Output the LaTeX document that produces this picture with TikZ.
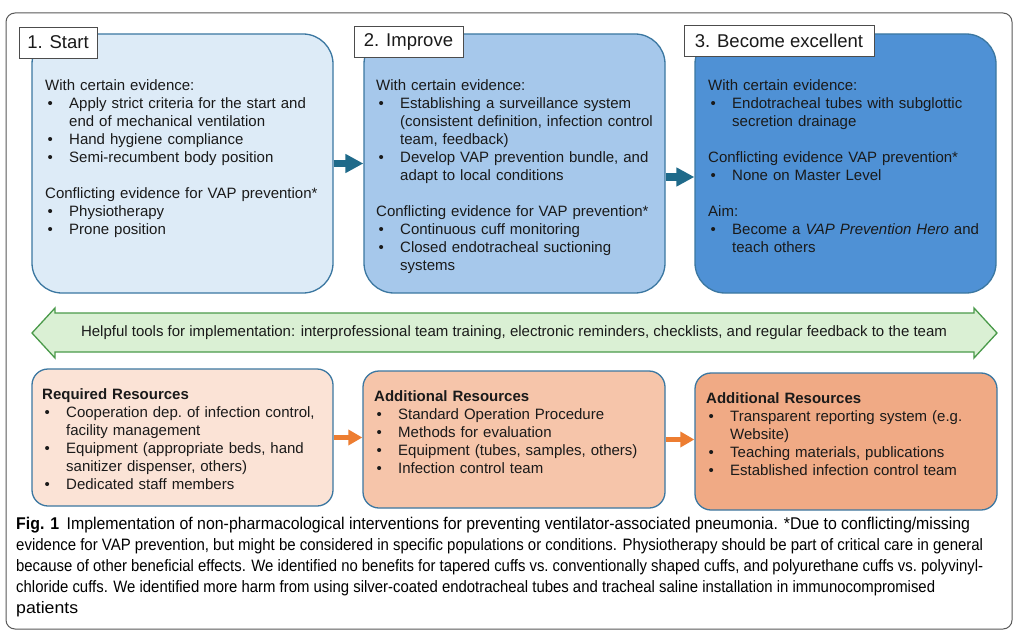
\documentclass[tikz,border=0pt]{standalone}
\usepackage{fontspec}
\usepackage{graphicx}
\setmainfont{Liberation Sans}
\usetikzlibrary{arrows.meta}
\definecolor{bfill1}{HTML}{DDEBF7}
\definecolor{bfill2}{HTML}{A6C8EB}
\definecolor{bfill3}{HTML}{4F91D5}
\definecolor{bborder}{HTML}{3B77A1}
\definecolor{rfill1}{HTML}{FBE3D6}
\definecolor{rfill2}{HTML}{F6C5AA}
\definecolor{rfill3}{HTML}{F0AA85}
\definecolor{gfill}{HTML}{DAF0D4}
\definecolor{gborder}{HTML}{4A9A4A}
\definecolor{arrblue}{HTML}{1F6A8A}
\definecolor{arrorange}{HTML}{ED7D31}
\definecolor{txt}{HTML}{1A1A1A}
\newcommand{\hd}[1]{\par\noindent#1}
\newcommand{\bl}[1]{\par\noindent\hangindent=24pt\hangafter=1\makebox[24pt][l]{\hspace{2.5pt}\textbullet}#1}
\newcommand{\gap}{\par\vspace{18pt}}
\newcommand{\nl}{\newline}
\begin{document}
\begin{tikzpicture}[x=1pt,y=-1pt,
  topbox/.style={draw=bborder, line width=1.3pt, rounded corners=30pt, inner sep=0pt},
  resbox/.style={draw=bborder, line width=1.3pt, rounded corners=16pt, inner sep=0pt},
  label/.style={draw=black!70, line width=0.8pt, fill=white, inner sep=0pt, minimum height=31pt, font=\fontsize{18.5}{22}\selectfont, text=txt},
  body/.style={anchor=north west, inner sep=0pt, text width=300pt, font=\fontsize{15}{18}\selectfont, text=txt},
  toparrow/.style={draw=arrblue, line width=7pt, -{Triangle[length=18pt,width=18pt]}},
  resarrow/.style={draw=arrorange, line width=5pt, -{Triangle[length=14pt,width=15pt]}},
  caption/.style={anchor=base west, inner sep=0pt, text=black}
]
\useasboundingbox (0,0) rectangle (1024,639);
\fill[white] (0,0) rectangle (1024,639);
% outer frame
\draw[draw=black!65, line width=1pt, rounded corners=9pt] (6,13) rectangle (1012,629);

% top boxes
\node[topbox, fill=bfill1, minimum width=301pt, minimum height=259pt] (b1) at (182.5,163.5) {};
\node[topbox, fill=bfill2, minimum width=301pt, minimum height=259pt] (b2) at (514.5,163.5) {};
\node[topbox, fill=bfill3, minimum width=301pt, minimum height=259pt] (b3) at (845.5,163.5) {};

% labels
\node[label, minimum width=78pt] (l1) at (58,42.5) {1. Start};
\node[label, minimum width=109pt] (l2) at (408.5,41.5) {2. Improve};
\node[label, minimum width=190pt] (l3) at (779,40.5) {3. Become excellent};

% top texts
\node[body] (t1) at (45,72) {\raggedright\hd{\rule{0pt}{13pt}With certain evidence:}
\bl{Apply strict criteria for the start and\nl end of mechanical ventilation}
\bl{Hand hygiene compliance}
\bl{Semi-recumbent body position}
\gap
\hd{Conflicting evidence for VAP prevention*}
\bl{Physiotherapy}
\bl{Prone position}\par};

\node[body] (t2) at (376,72) {\raggedright\hd{\rule{0pt}{13pt}With certain evidence:}
\bl{Establishing a surveillance system\nl (consistent definition, infection control\nl team, feedback)}
\bl{Develop VAP prevention bundle, and\nl adapt to local conditions}
\gap
\hd{Conflicting evidence for VAP prevention*}
\bl{Continuous cuff monitoring}
\bl{Closed endotracheal suctioning\nl systems}\par};

\node[body] (t3) at (708,72) {\raggedright\hd{\rule{0pt}{13pt}With certain evidence:}
\bl{Endotracheal tubes with subglottic\nl secretion drainage}
\gap
\hd{Conflicting evidence VAP prevention*}
\bl{None on Master Level}
\gap
\hd{Aim:}
\bl{Become a \textit{VAP Prevention Hero} and\nl teach others}\par};

% top arrows
\draw[toparrow] (b1.east) -- (b1.east -| b2.west);
\coordinate (a2s) at ([yshift=-13.5pt]b2.east);
\draw[toparrow] (a2s) -- (a2s -| b3.west);

% green double arrow
\coordinate (gl) at (32,333);
\coordinate (gr) at (997,333);
\draw[draw=gborder, fill=gfill, line width=1.3pt, line join=miter]
  (gl) -- (55,308) -- (55,313) -- (974,313) -- (974,308) -- (gr)
  -- (974,358) -- (974,352) -- (55,352) -- (55,358) -- cycle;
\node[inner sep=0pt, font=\fontsize{15}{18}\selectfont, text=txt] (gtext) at (514,333)
  {Helpful tools for implementation: interprofessional team training, electronic reminders, checklists, and regular feedback to the team};

% resource boxes
\node[resbox, fill=rfill1, minimum width=301pt, minimum height=137pt] (r1) at (182.5,437.5) {};
\node[resbox, fill=rfill2, minimum width=302pt, minimum height=137pt] (r2) at (514,439.5) {};
\node[resbox, fill=rfill3, minimum width=302pt, minimum height=137pt] (r3) at (846,441.5) {};

\node[body] (rt1) at (42,381) {\raggedright\hd{\rule{0pt}{13pt}\textbf{Required Resources}}
\bl{Cooperation dep.\ of infection control,\nl facility management}
\bl{Equipment (appropriate beds, hand\nl sanitizer dispenser, others)}
\bl{Dedicated staff members}\par};

\node[body] (rt2) at (374,383) {\raggedright\hd{\rule{0pt}{13pt}\textbf{Additional Resources}}
\bl{Standard Operation Procedure}
\bl{Methods for evaluation}
\bl{Equipment (tubes, samples, others)}
\bl{Infection control team}\par};

\node[body] (rt3) at (706,385) {\raggedright\hd{\rule{0pt}{13pt}\textbf{Additional Resources}}
\bl{Transparent reporting system (e.g.\nl Website)}
\bl{Teaching materials, publications}
\bl{Established infection control team}\par};

\draw[resarrow] (r1.east) -- (r1.east -| r2.west);
\draw[resarrow] (r2.east) -- (r2.east -| r3.west);

% caption
\node[caption, font=\fontsize{17}{20}\selectfont] (cap1) at (16,529)
  {\resizebox{954pt}{\height}{\textbf{Fig. 1}\hspace{8pt}Implementation of non-pharmacological interventions for preventing ventilator-associated pneumonia. *Due to conflicting/missing}};
\node[caption, font=\fontsize{16.5}{20}\selectfont] (cap2) at (16,550)
  {\resizebox{967pt}{\height}{evidence for VAP prevention, but might be considered in specific populations or conditions. Physiotherapy should be part of critical care in general}};
\node[caption, font=\fontsize{16.5}{20}\selectfont] (cap3) at (16,571)
  {\resizebox{967pt}{\height}{because of other beneficial effects. We identified no benefits for tapered cuffs vs.\ conventionally shaped cuffs, and polyurethane cuffs vs.\ polyvinyl-}};
\node[caption, font=\fontsize{16.5}{20}\selectfont] (cap4) at (16,592)
  {\resizebox{919pt}{\height}{chloride cuffs. We identified more harm from using silver-coated endotracheal tubes and tracheal saline installation in immunocompromised}};
\node[caption, font=\fontsize{16.5}{20}\selectfont] (cap5) at (16,613)
  {\resizebox{62pt}{\height}{patients}};
\end{tikzpicture}
\end{document}
